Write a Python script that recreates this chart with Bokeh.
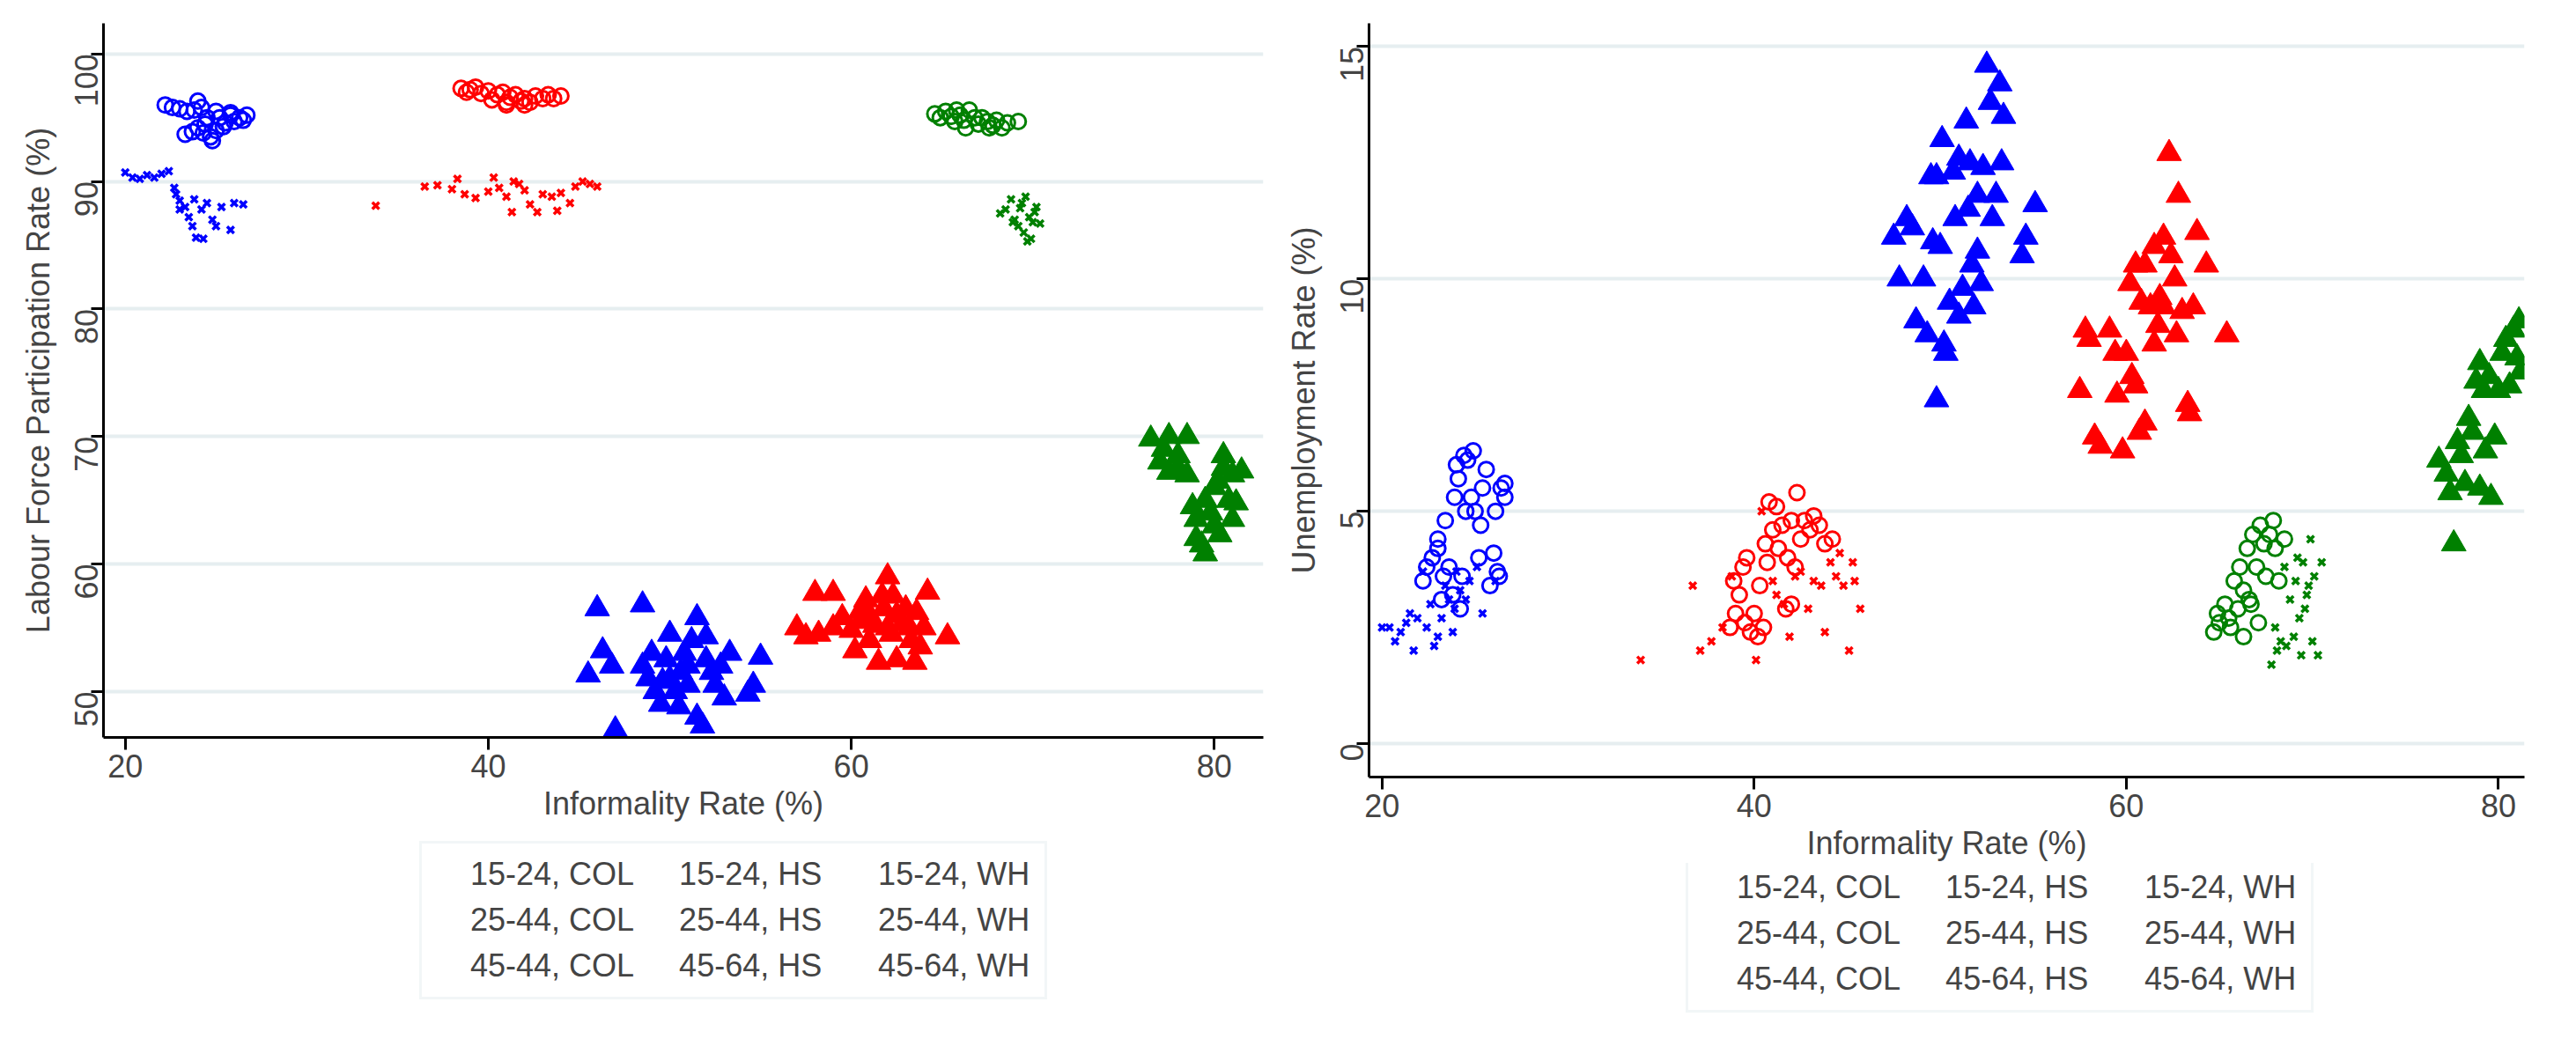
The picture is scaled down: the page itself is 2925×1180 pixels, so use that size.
from math import pi
from bokeh.plotting import figure
from bokeh.layouts import row, column
from bokeh.models import Legend, LegendItem, Range1d, FixedTicker
from bokeh.embed import file_html
from bokeh.resources import INLINE

# (informality %, labour force participation %)
lfp_col_1524 = [(45.5,51.3),(46,56.5),(46.3,53.2),(46.8,52),(47,47),(48.5,56.8),(48.5,52),(49,53),(49.2,50),(49.5,49),
                (49.8,52.5),(50,54.5),(50,51),(50.3,50),(50.5,48.8),(50.8,53),(51,52),(51,50.5),(51.2,54),(51.5,55.8),
                (51.5,48),(51.8,47.3),(52,54.3),(52,52.5),(52.3,51.5),(52.5,50.5),(52.8,52),(53,49.5),(53.3,53),(54.3,49.8),
                (54.6,50.5),(55,52.7),(48.8,51),(49.6,50.8),(50.6,51.5)]
lfp_hs_1524 = [(57,55),(57.5,54.3),(58,57.7),(58.2,54.5),(59,57.7),(59.5,55.8),(60,54.8),(60.2,53.2),(60.5,55.5),(60.8,57.2),
               (61,54),(61,56),(61.3,55.2),(61.5,52.3),(61.7,57.5),(61.8,56.5),(62,59),(62,55),(62.2,54.5),(62.3,57.5),
               (62.5,56),(62.5,52.5),(62.8,55.3),(63,56.5),(63.2,55),(63.3,54),(63.5,52.3),(63.6,56.2),(63.8,53.5),(64,55),
               (64.2,57.8),(65.3,54.3),(59,55),(60.5,56.3)]
lfp_wh_1524 = [(76.5,69.8),(77,68),(77.2,69),(77.5,70),(77.5,67.2),(78,68.5),(78,67.5),(78.5,70),(78.5,67),(78.8,64.5),
               (79,63.5),(79,62),(79.3,61.5),(79.5,60.8),(79.5,65),(80,66),(80,63),(80.2,66.5),(80.5,67.5),(80.5,68.5),
               (80.8,65),(81,67),(81,63.5),(81.2,64.8),(81.5,67.3),(79.8,64),(80.3,62.3)]
lfp_col_2544 = [(22.2,96),(22.6,95.8),(23,95.7),(23.4,95.5),(23.8,95.6),(24,96.3),(24.2,95.8),(24.4,94.5),(24.5,95),(24,94.2),
                (23.3,93.7),(24.7,93.5),(25,94),(25.2,95),(25,95.5),(25.5,94.6),(25.8,95.2),(26,94.7),(26.3,95),(26.7,95.2),
                (26.5,94.8),(24.8,93.2),(24.3,93.8),(23.7,93.9),(25.4,94.3),(25.8,95.4)]
lfp_hs_2544 = [(38.5,97.3),(38.8,97),(39,97.2),(39.3,97.4),(39.6,96.9),(40,97.1),(40.2,96.4),(40.5,96.8),(40.8,97),(41,96.2),
               (41.2,96.6),(41.5,96.8),(41.8,96.3),(42,96.5),(42.3,96.2),(42.6,96.7),(43,96.5),(43.3,96.8),(43.6,96.5),(44,96.7),
               (41,96),(42,96)]
lfp_wh_2544 = [(64.6,95.3),(64.9,95),(65.2,95.5),(65.5,95.1),(65.8,95.6),(66,95.2),(66.2,94.8),(66.5,95.6),(66.8,95),(67,94.5),
               (67.2,95),(67.5,94.7),(67.8,94.4),(68,94.8),(68.3,94.2),(68.6,94.6),(69.2,94.7),(66.3,94.2),(65.7,94.7),(67.6,94.2)]
lfp_col_4564 = [(20,90.7),(20.4,90.3),(20.8,90.2),(21.2,90.5),(21.6,90.3),(22,90.6),(22.4,90.8),(22.7,89.5),(23,88.5),(23.3,88),
                (23.5,87.2),(23.7,86.5),(23.9,85.6),(24.2,87.8),(24.5,88.3),(24.8,87),(25,86.5),(25.3,88),(25.8,86.2),(26,88.3),
                (26.5,88.2),(23,87.8),(24.3,85.5),(22.8,89),(23.8,88.6)]
lfp_hs_4564 = [(33.8,88.1),(36.5,89.6),(37.2,89.7),(38,89.4),(38.3,90.2),(38.7,89),(39.3,88.7),(40,89.2),(40.3,90.3),(40.6,89.5),
               (41,88.8),(41.3,87.6),(41.7,89.8),(42,89.3),(42.3,88.2),(42.7,87.6),(43,89),(43.5,88.8),(44,89.1),(44.5,88.3),
               (44.8,89.6),(45.2,90),(45.6,89.8),(46,89.6),(41.4,90),(43.8,87.7)]
lfp_wh_4564 = [(68.2,87.5),(68.5,87.8),(68.8,88.6),(69,87),(69.2,86.5),(69.4,88.3),(69.5,86),(69.7,85.3),(69.8,87.2),(70,86.8),
               (70.2,88),(70.4,86.7),(69.6,88.8),(69.9,85.5),(70.1,87.6),(68.9,86.8),(69.3,87.9)]

# (informality %, unemployment %)
ur_col_1524 = [(47.5,10.9),(47.8,10.0),(48.2,11.3),(48.5,11.1),(48.7,9.1),(49.1,10.0),(49.3,8.8),(49.5,12.2),(49.6,10.8),(49.8,12.2),
               (50,10.7),(49.8,7.4),(50.1,13.0),(50.2,8.6),(50.3,8.4),(50.5,9.5),(50.7,12.3),(50.8,11.3),(51,9.2),(51,12.6),
               (51.2,9.8),(51.4,13.4),(51.5,11.5),(51.6,12.5),(51.7,10.3),(51.8,9.4),(52,11.8),(52,10.6),(52.3,12.4),(52.5,14.6),
               (52.7,13.8),(52.8,11.3),(53,11.8),(53.2,14.2),(53.4,13.5),(53.3,12.5),(54.4,10.5),(54.6,10.9),(55.1,11.6),(52.2,9.9)]
ur_hs_1524 = [(57.5,7.6),(57.8,8.9),(58.0,8.7),(58.3,6.6),(58.6,6.4),(59.1,8.9),(59.4,8.4),(59.5,7.5),(59.8,6.3),(60,8.4),
              (60.2,9.9),(60.3,7.9),(60.5,7.7),(60.7,6.7),(60.5,10.3),(60.8,9.5),(61,10.3),(61,6.9),(61.3,9.4),(61.5,10.7),
              (61.5,8.6),(61.7,9.0),(61.8,9.6),(62,10.9),(62,9.4),(62.3,12.7),(62.4,10.5),(62.6,10.0),(62.7,8.8),(62.8,11.8),
              (63.0,9.3),(63.4,7.1),(63.6,9.4),(63.8,11.0),(64.3,10.3),(65.4,8.8),(63.3,7.3)]
ur_wh_1524 = [(76.8,6.1),(77.2,5.8),(77.4,5.4),(77.6,4.3),(77.8,6.5),(78,6.2),(78.2,5.6),(78.4,7.0),(78.6,6.7),(78.8,7.8),
              (79,8.2),(79,5.5),(79.3,6.3),(79.5,7.9),(79.8,6.6),(79.6,5.3),(80,7.6),(80.2,8.4),(80.4,8.7),(80.6,7.7),
              (80.8,8.9),(81,8.3),(81.1,9.1),(81.2,8.0),(79.2,7.6)]
ur_col_2544 = [(22.2,3.5),(22.4,3.8),(22.7,4.0),(23,4.2),(23,4.4),(23.2,3.1),(23.3,3.6),(23.4,4.8),(23.6,3.8),(23.8,3.2),
               (23.9,5.3),(24,6.0),(24.1,5.7),(24.2,2.9),(24.3,3.6),(24.4,6.2),(24.5,5.0),(24.6,6.1),(24.8,5.3),(24.9,6.3),
               (25,5.0),(25.2,4.0),(25.3,4.7),(25.4,5.5),(25.6,5.9),(25.8,3.4),(26,4.1),(26.1,5.0),(26.2,3.7),(26.6,5.6),
               (26.3,3.6),(26.6,5.3),(26.4,5.5)]
ur_hs_2544 = [(38.7,2.5),(38.9,3.5),(39,2.8),(39.2,3.2),(39.4,3.8),(39.5,2.6),(39.6,4.0),(39.8,2.4),(40,2.8),(40.2,2.3),
              (40.3,3.4),(40.5,2.5),(40.6,4.3),(40.7,3.9),(40.8,5.2),(41,4.6),(41.2,5.1),(41.3,4.2),(41.5,4.7),(41.7,2.9),
              (41.8,4.0),(42,4.8),(42.2,3.8),(42.3,5.4),(42.5,4.4),(42.7,4.8),(43,4.6),(43.2,4.9),(43.5,4.7),(43.8,4.3),
              (44.2,4.4),(42,3.0)]
ur_wh_2544 = [(64.7,2.4),(64.9,2.8),(65,2.6),(65.3,3.0),(65.5,2.7),(65.6,2.5),(65.8,3.5),(66,2.9),(66.1,3.8),(66.3,2.3),
              (66.3,3.3),(66.5,4.2),(66.6,3.1),(66.8,4.5),(67,3.8),(67.1,2.6),(67.2,4.7),(67.4,4.3),(67.5,3.6),(67.7,4.5),
              (67.9,4.8),(68,4.2),(68.2,3.5),(68.5,4.4),(66.7,3.0)]
ur_col_4564 = [(20,2.5),(20.4,2.5),(20.7,2.2),(21,2.4),(21.3,2.6),(21.5,2.8),(21.7,2.0),(21.9,2.7),(22.2,3.7),(22.4,2.5),
               (22.6,3.0),(22.8,2.1),(23,2.3),(23.2,2.7),(23.4,3.4),(23.6,3.1),(23.8,2.4),(24,3.7),(24.2,3.3),(24.5,3.1),
               (24.7,3.5),(25.1,3.8),(25.4,2.8),(26.1,3.5),(23.9,2.9)]
ur_hs_4564 = [(33.9,1.8),(36.7,3.4),(37.1,2.0),(37.7,2.2),(38.3,2.5),(38.8,3.6),(40.1,1.8),(40.4,5.0),(41.0,3.5),(41.2,3.2),
              (41.6,3.0),(41.9,2.3),(42.2,3.6),(42.5,3.7),(42.9,2.9),(43.2,3.5),(43.6,3.4),(44.1,3.9),(44.4,3.6),(44.8,3.4),
              (45.1,2.0),(45.3,3.9),(45.4,3.5),(45.7,2.9),(44.6,4.1),(43.8,2.4)]
ur_wh_4564 = [(67.8,1.7),(68,2.5),(68.1,2.0),(68.3,2.2),(68.5,3.8),(68.6,2.1),(68.8,3.1),(69,2.3),(69.1,3.5),(69.2,4.0),
              (69.3,2.7),(69.4,1.9),(69.5,3.9),(69.6,2.9),(69.7,3.2),(69.9,4.4),(70,2.2),(70.1,3.6),(70.3,1.9),(70.5,3.9),
              (69.8,3.4)]

labels = ["15-24, COL", "15-24, HS", "15-24, WH",
          "25-44, COL", "25-44, HS", "25-44, WH",
          "45-44, COL", "45-64, HS", "45-64, WH"]
colors = ["#0000ff", "#ff0000", "#008000"]
FONT = "Liberation Sans"


def draw(p, i, xs, ys):
    c = colors[i % 3]
    if i < 3:
        return p.scatter(xs, ys, marker="triangle", size=28, fill_color=c, line_color=c)
    if i < 6:
        return p.scatter(xs, ys, marker="circle", size=17, fill_color=None, line_color=c, line_width=3)
    return p.scatter(xs, ys, marker="x", size=11, line_color=c, line_width=3.5)


def panel(series, ylabel, xr, yr, yticks, fw, fh, bl):
    p = figure(frame_width=fw, frame_height=fh,
               x_range=Range1d(*xr), y_range=Range1d(*yr), toolbar_location=None,
               output_backend="svg", min_border_left=bl, min_border_top=26,
               min_border_bottom=0, min_border_right=20)
    p.outline_line_color = None
    p.xgrid.grid_line_color = None
    p.ygrid.grid_line_color = "#e6eef0"
    p.ygrid.grid_line_width = 4
    p.xaxis.ticker = FixedTicker(ticks=[20, 40, 60, 80])
    p.yaxis.ticker = FixedTicker(ticks=yticks)
    p.yaxis.major_label_orientation = pi / 2
    for ax in (p.xaxis, p.yaxis):
        ax.axis_line_width = 3
        ax.major_tick_line_width = 3
        ax.major_tick_out = 14
        ax.major_tick_in = 0
        ax.minor_tick_line_color = None
        ax.major_label_text_font = FONT
        ax.major_label_text_font_size = "36px"
        ax.axis_label_text_font = FONT
        ax.axis_label_text_font_size = "36px"
        ax.axis_label_text_font_style = "normal"
        ax.axis_label_standoff = 6
    p.xaxis.axis_label = "Informality Rate (%)"
    p.yaxis.axis_label = ylabel
    for i, pts in enumerate(series):
        draw(p, i, [a for a, b in pts], [b for a, b in pts])
    return p


def legend_box(width, height, loc):
    lf = figure(width=width, height=height, toolbar_location=None, output_backend="svg",
                x_range=Range1d(0, 1), y_range=Range1d(0, 1),
                min_border=0)
    lf.axis.visible = False
    lf.grid.grid_line_color = None
    lf.outline_line_color = None
    items = [LegendItem(label=labels[i], renderers=[draw(lf, i, [], [])]) for i in range(9)]
    leg = Legend(items=items, orientation="horizontal", ncols=3, location=loc,
                 label_text_font=FONT, label_text_font_size="36px",
                 border_line_color="#e6eef0", border_line_width=3,
                 glyph_width=36, glyph_height=36, spacing=10, label_width=175,
                 padding=14, margin=0)
    lf.add_layout(leg, "center")
    return lf


p1 = panel([lfp_col_1524, lfp_hs_1524, lfp_wh_1524, lfp_col_2544, lfp_hs_2544, lfp_wh_2544,
            lfp_col_4564, lfp_hs_4564, lfp_wh_4564],
           "Labour Force Participation Rate (%)", (18.8, 82.7), (46.4, 102.4),
           [50, 60, 70, 80, 90, 100], 1317, 811, 117)
p2 = panel([ur_col_1524, ur_hs_1524, ur_wh_1524, ur_col_2544, ur_hs_2544, ur_wh_2544,
            ur_col_4564, ur_hs_4564, ur_wh_4564],
           "Unemployment Rate (%)", (19.3, 81.4), (-0.72, 15.5),
           [0, 5, 10, 15], 1312, 856, 100)

l1 = legend_box(1454, 215, (359, 15))
l2 = legend_box(1432, 175, (360, 5))

layout = row(column(p1, l1), column(p2, l2))
open("out.html", "w").write(file_html(layout, INLINE))
